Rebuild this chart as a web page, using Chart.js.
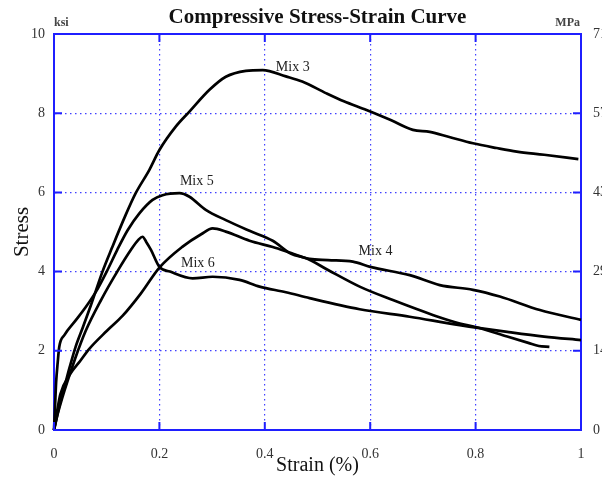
<!DOCTYPE html>
<html><head><meta charset="utf-8">
<script src="https://cdn.jsdelivr.net/npm/chart.js@4.4.0/dist/chart.umd.min.js"></script>
<style>html,body{margin:0;padding:0;background:#fff;overflow:hidden}#wrap{width:602px;height:484px;position:relative}</style>
</head><body><div id="wrap"><canvas id="c" width="602" height="484"></canvas></div>
<script>
// ---- tick values & labels ----
const xTickValues = [0, 0.2, 0.4, 0.6, 0.8, 1];
const xTickLabels = ['0', '0.2', '0.4', '0.6', '0.8', '1'];
const yTickValues = [0, 2, 4, 6, 8, 10];
const yTickLabels = ['0', '2', '4', '6', '8', '10'];
const mpaTickLabels = ['0', '14', '29', '43', '57', '71'];

// ---- series (strain %, stress ksi) ----
const mix3Strain = [0,0.005,0.01,0.02,0.03,0.041,0.055,0.07,0.092,0.11,0.135,0.155,0.181,0.2,0.231,0.257,0.295,0.326,0.364,0.396,0.44,0.471,0.517,0.55,0.593,0.64,0.681,0.713,0.75,0.795,0.84,0.878,0.93,0.995];
const mix3Stress = [0,0.3,0.6,1.1,1.6,2.1,2.6,3.15,4.0,4.6,5.4,5.98,6.57,7.07,7.66,8.04,8.59,8.92,9.07,9.09,8.93,8.80,8.50,8.30,8.08,7.82,7.58,7.53,7.40,7.24,7.12,7.03,6.95,6.84];

const mix5Strain = [0,0.002,0.004,0.007,0.01,0.02,0.04,0.06,0.08,0.1,0.12,0.14,0.162,0.187,0.206,0.238,0.257,0.288,0.326,0.371,0.415,0.45,0.48,0.52,0.58,0.643,0.72,0.77,0.8,0.86,0.9,0.92,0.94];
const mix5Stress = [0,0.6,1.2,1.7,2.1,2.4,2.75,3.1,3.5,4.0,4.55,5.05,5.47,5.81,5.93,5.98,5.89,5.56,5.30,5.03,4.78,4.45,4.33,4.04,3.62,3.28,2.90,2.69,2.60,2.36,2.20,2.12,2.10];

const mix4Strain = [0,0.005,0.012,0.03,0.05,0.067,0.1,0.13,0.165,0.2,0.244,0.28,0.301,0.326,0.371,0.415,0.45,0.485,0.52,0.567,0.6,0.675,0.732,0.795,0.846,0.922,1.0];
const mix4Stress = [0,0.4,0.9,1.4,1.75,2.05,2.5,2.88,3.45,4.1,4.63,4.95,5.09,5.01,4.78,4.62,4.47,4.32,4.29,4.25,4.12,3.91,3.66,3.54,3.37,3.03,2.78];

const mix6Strain = [0,0.005,0.01,0.02,0.04,0.06,0.09,0.12,0.146,0.16,0.168,0.175,0.184,0.2,0.22,0.263,0.301,0.352,0.39,0.44,0.485,0.58,0.675,0.77,0.86,0.93,1.0];
const mix6Stress = [0,0.3,0.55,1.0,1.8,2.5,3.3,4.0,4.55,4.8,4.88,4.75,4.55,4.12,4.0,3.83,3.87,3.79,3.62,3.48,3.33,3.05,2.86,2.65,2.48,2.36,2.27];

// ---- curve annotations ----
const labelNames = ['Mix 3', 'Mix 5', 'Mix 4', 'Mix 6'];
const labelStrain = [0.453, 0.271, 0.61, 0.273];
const labelStress = [9.16, 6.27, 4.52, 4.22];

const BLUE = '#1f1fff';
const GRID = '#4040ff';
const SERIF = '"Liberation Serif", "DejaVu Serif", serif';

const pts = (xs, ys) => xs.map((x, i) => ({x, y: ys[i]}));
const series = (name, xs, ys) => ({
  label: name, data: pts(xs, ys), showLine: true, borderColor: '#000', backgroundColor: '#000',
  borderWidth: 2.7, pointRadius: 0, cubicInterpolationMode: 'monotone', clip: 4
});

const frameTicks = {
  id: 'frameTicks',
  afterDatasetsDraw(chart) {
    const {ctx, chartArea: a, scales: {x, y}} = chart;
    ctx.save();
    ctx.strokeStyle = BLUE; ctx.lineWidth = 2; ctx.beginPath();
    x.ticks.forEach(t => { const p = x.getPixelForValue(t.value);
      ctx.moveTo(p, a.bottom); ctx.lineTo(p, a.bottom - 8);
      ctx.moveTo(p, a.top); ctx.lineTo(p, a.top + 8); });
    y.ticks.forEach(t => { const p = y.getPixelForValue(t.value);
      ctx.moveTo(a.left, p); ctx.lineTo(a.left + 8, p);
      ctx.moveTo(a.right, p); ctx.lineTo(a.right - 8, p); });
    ctx.stroke();
    // curve labels
    ctx.fillStyle = '#222'; ctx.font = '14px ' + SERIF; ctx.textAlign = 'center'; ctx.textBaseline = 'middle';
    labelNames.forEach((n, i) => ctx.fillText(n, x.getPixelForValue(labelStrain[i]), y.getPixelForValue(labelStress[i])));
    // unit labels
    ctx.font = 'bold 12px ' + SERIF; ctx.fillStyle = '#444'; ctx.textBaseline = 'alphabetic';
    ctx.textAlign = 'left'; ctx.fillText('ksi', a.left, a.top - 8);
    ctx.textAlign = 'right'; ctx.fillText('MPa', a.right - 1, a.top - 8);
    ctx.restore();
  }
};

const tickFont = {family: SERIF, size: 14};
new Chart(document.getElementById('c'), {
  type: 'scatter',
  data: { datasets: [
    series('Mix 3', mix3Strain, mix3Stress),
    series('Mix 5', mix5Strain, mix5Stress),
    series('Mix 4', mix4Strain, mix4Stress),
    series('Mix 6', mix6Strain, mix6Stress)
  ]},
  options: {
    responsive: false, animation: false, devicePixelRatio: 1,
    layout: {padding: 0},
    plugins: {
      legend: {display: false}, tooltip: {enabled: false},
      title: {display: true, text: 'Compressive Stress-Strain Curve', fullSize: false, color: '#111',
        font: {family: SERIF, size: 21, weight: 'bold', lineHeight: '24px'}, padding: {top: 6, bottom: 4}}
    },
    scales: {
      x: { type: 'linear', position: 'bottom', min: 0, max: 1,
        afterBuildTicks: s => { s.ticks = xTickValues.map(v => ({value: v})); },
        afterFit: s => { s.height = 54; },
        ticks: {callback: (v, i) => xTickLabels[i], font: tickFont, color: '#333', padding: 16, maxRotation: 0},
        grid: {color: GRID, lineWidth: 1.2, drawTicks: false},
        border: {color: BLUE, width: 2, dash: [1.5, 3.5]},
        title: {display: true, text: 'Strain (%)', color: '#111', font: {family: SERIF, size: 20}, padding: {top: 0, bottom: 6}}
      },
      xTop: { type: 'linear', position: 'top', min: 0, max: 1,
        afterFit: s => { s.height = 0; },
        ticks: {display: false}, grid: {display: false, drawTicks: false},
        border: {color: BLUE, width: 2}
      },
      y: { type: 'linear', position: 'left', min: 0, max: 10,
        afterBuildTicks: s => { s.ticks = yTickValues.map(v => ({value: v})); },
        afterFit: s => { s.width = 54; },
        ticks: {callback: (v, i) => yTickLabels[i], font: tickFont, color: '#333', padding: 9},
        grid: {color: GRID, lineWidth: 1.2, drawTicks: false},
        border: {color: BLUE, width: 2, dash: [1.5, 3.5]},
        title: {display: true, text: 'Stress', color: '#111', font: {family: SERIF, size: 21}, padding: {top: 10}}
      },
      yRight: { type: 'linear', position: 'right', min: 0, max: 10,
        afterBuildTicks: s => { s.ticks = yTickValues.map(v => ({value: v})); },
        afterFit: s => { s.width = 21; },
        ticks: {callback: (v, i) => mpaTickLabels[i], font: tickFont, color: '#333', padding: 12},
        grid: {display: false, drawTicks: false},
        border: {color: BLUE, width: 2}
      }
    }
  },
  plugins: [frameTicks]
});
</script></body></html>
